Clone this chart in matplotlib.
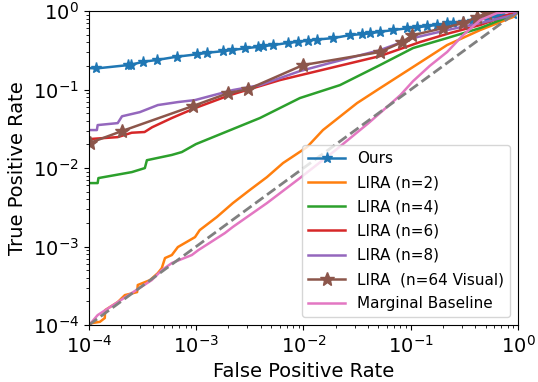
import numpy as np
import matplotlib
matplotlib.use("Agg")
import matplotlib.pyplot as plt

# ----- valores (FPR, TPR) -----
ours_fpr = [1.0e-4, 1.18e-4, 2.32e-4, 2.50e-4, 3.21e-4, 4.28e-4, 6.58e-4, 1.01e-3,
            1.26e-3, 1.79e-3, 2.14e-3, 2.85e-3, 3.79e-3, 4.22e-3, 5.24e-3, 7.21e-3,
            8.95e-3, 1.11e-2, 1.34e-2, 1.90e-2, 2.72e-2, 3.49e-2, 4.17e-2, 5.16e-2,
            6.87e-2, 9.16e-2, 0.114, 0.141, 0.175, 0.216, 0.249, 0.309, 0.370,
            0.511, 0.634, 0.730, 0.904, 1.0]
ours_tpr = [0.188, 0.186, 0.205, 0.208, 0.226, 0.238, 0.262, 0.281, 0.294, 0.309,
            0.318, 0.335, 0.351, 0.358, 0.369, 0.394, 0.406, 0.421, 0.434, 0.453,
            0.494, 0.509, 0.520, 0.545, 0.573, 0.603, 0.619, 0.644, 0.664, 0.697,
            0.710, 0.731, 0.752, 0.807, 0.845, 0.863, 0.916, 1.0]

lira2_fpr = [1.0e-4, 1.07e-4, 1.27e-4, 1.41e-4, 1.42e-4, 1.86e-4, 2.17e-4, 2.82e-4,
             2.86e-4, 3.72e-4, 4.40e-4, 4.79e-4, 5.13e-4, 5.94e-4, 6.76e-4, 7.85e-4,
             9.77e-4, 1.08e-3, 1.56e-3, 2.20e-3, 3.16e-3, 4.57e-3, 6.46e-3, 1.08e-2,
             1.52e-2, 3.16e-2, 5.16e-2, 0.105, 0.218, 0.443, 0.897, 1.0]
lira2_tpr = [1.0e-4, 1.06e-4, 1.10e-4, 1.23e-4, 1.55e-4, 1.96e-4, 2.41e-4, 2.63e-4,
             3.24e-4, 3.74e-4, 4.59e-4, 5.32e-4, 7.14e-4, 7.80e-4, 9.86e-4, 1.11e-3,
             1.32e-3, 1.62e-3, 2.38e-3, 3.58e-3, 5.25e-3, 7.67e-3, 1.16e-2, 1.85e-2,
             3.05e-2, 6.73e-2, 0.104, 0.194, 0.369, 0.573, 0.839, 1.0]

lira4_fpr = [1.0e-4, 1.21e-4, 1.23e-4, 2.52e-4, 3.33e-4, 3.48e-4, 5.94e-4, 7.36e-4,
             9.96e-4, 3.93e-3, 9.27e-3, 2.19e-2, 5.16e-2, 0.105, 0.218, 0.443, 0.897, 1.0]
lira4_tpr = [6.44e-3, 6.44e-3, 7.46e-3, 8.89e-3, 1.0e-2, 1.26e-2, 1.47e-2, 1.60e-2,
             2.02e-2, 4.34e-2, 7.80e-2, 0.114, 0.205, 0.338, 0.453, 0.607, 0.889, 1.0]

lira6_fpr = [1.0e-4, 1.86e-4, 2.51e-4, 3.31e-4, 3.89e-4, 5.94e-4, 9.77e-4, 2.07e-3,
             6.03e-3, 1.77e-2, 5.16e-2, 0.122, 0.232, 0.443, 1.0]
lira6_tpr = [2.34e-2, 2.48e-2, 2.82e-2, 2.88e-2, 3.31e-2, 4.34e-2, 5.81e-2, 8.51e-2,
             0.132, 0.188, 0.267, 0.403, 0.525, 0.664, 1.0]

lira8_fpr = [1.0e-4, 1.19e-4, 1.21e-4, 1.86e-4, 2.04e-4, 2.99e-4, 4.40e-4, 6.76e-4,
             9.77e-4, 2.20e-3, 3.94e-3, 9.27e-3, 1.77e-2, 5.16e-2, 0.105, 0.218,
             0.443, 0.897, 1.0]
lira8_tpr = [3.05e-2, 3.05e-2, 3.53e-2, 3.74e-2, 4.57e-2, 5.16e-2, 6.35e-2, 6.93e-2,
             7.35e-2, 9.86e-2, 0.114, 0.172, 0.218, 0.318, 0.453, 0.573, 0.703,
             0.889, 1.0]

lira64_fpr = [1.02e-4, 2.02e-4, 9.33e-4, 2.00e-3, 3.04e-3, 9.89e-3, 5.16e-2,
              8.32e-2, 0.103, 0.200, 0.307, 0.415, 0.514, 1.0]
lira64_tpr = [2.09e-2, 2.95e-2, 6.17e-2, 9.02e-2, 0.101, 0.205, 0.301, 0.403,
              0.490, 0.607, 0.703, 0.839, 0.944, 1.0]

marg_fpr = [1.0e-4, 1.07e-4, 1.21e-4, 1.86e-4, 3.86e-4, 4.79e-4, 5.94e-4, 9.12e-4,
            1.05e-3, 1.86e-3, 2.20e-3, 4.57e-3, 9.27e-3, 2.0e-2, 4.0e-2, 6.0e-2,
            8.0e-2, 0.105, 0.150, 0.218, 0.307, 0.443, 0.637, 1.0]
marg_tpr = [1.0e-4, 1.10e-4, 1.34e-4, 1.96e-4, 3.74e-4, 5.01e-4, 6.17e-4, 7.80e-4,
            9.02e-4, 1.49e-3, 1.78e-3, 3.58e-3, 7.46e-3, 1.70e-2, 3.70e-2, 6.00e-2,
            8.50e-2, 0.128, 0.200, 0.301, 0.494, 0.767, 0.944, 1.0]

fig = plt.figure(figsize=(5.38, 3.82), dpi=100)
ax = fig.add_axes([0.165, 0.149, 0.798, 0.822])

lw = 1.8
ax.plot(ours_fpr, ours_tpr, color="#1f77b4", lw=lw, marker="*", markersize=8,
        markevery=list(range(1, len(ours_fpr) - 1)), label="Ours")
ax.plot(lira2_fpr, lira2_tpr, color="#ff7f0e", lw=lw, label="LIRA (n=2)")
ax.plot(lira4_fpr, lira4_tpr, color="#2ca02c", lw=lw, label="LIRA (n=4)")
ax.plot(lira6_fpr, lira6_tpr, color="#d62728", lw=lw, label="LIRA (n=6)")
ax.plot(lira8_fpr, lira8_tpr, color="#9467bd", lw=lw, label="LIRA (n=8)")
ax.plot(lira64_fpr, lira64_tpr, color="#8c564b", lw=lw, marker="*", markersize=10,
        markevery=list(range(0, len(lira64_fpr) - 1)), label="LIRA  (n=64 Visual)")
ax.plot(marg_fpr, marg_tpr, color="#e377c2", lw=lw, label="Marginal Baseline")
ax.plot([1e-4, 1], [1e-4, 1], color="gray", ls="--", lw=2)

ax.set_xscale("log")
ax.set_yscale("log")
ax.set_xlim(1e-4, 1)
ax.set_ylim(1e-4, 1)
ax.set_xlabel("False Positive Rate", fontsize=14)
ax.set_ylabel("True Positive Rate", fontsize=14)
ax.tick_params(labelsize=14)
ax.legend(loc="lower right", fontsize=11, handlelength=2.4, labelspacing=0.6)

plt.savefig("out.png", dpi=100)
